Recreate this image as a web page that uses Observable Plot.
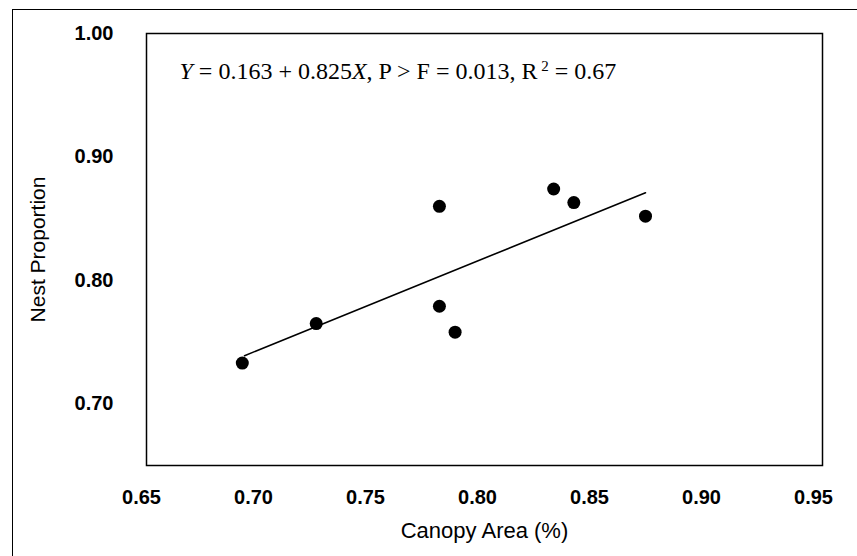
<!DOCTYPE html>
<html>
<head>
<meta charset="utf-8">
<script src="https://cdn.jsdelivr.net/npm/d3@7"></script>
<script src="https://cdn.jsdelivr.net/npm/@observablehq/plot@0.6"></script>
<style>
  html, body { margin: 0; padding: 0; background: #fff; }
  #wrap { position: relative; width: 857px; height: 556px; overflow: hidden; }
  #border { position: absolute; left: 12px; top: 9px; width: 900px; height: 600px;
            border-left: 1.5px solid #000; border-top: 1.5px solid #000; box-sizing: border-box; }
  #chart { position: absolute; left: 0; top: 0; }
</style>
</head>
<body>
<div id="wrap"><div id="border"></div><div id="chart"></div></div>
<script>
// Data
const canopyArea = [0.695, 0.728, 0.783, 0.783, 0.790, 0.834, 0.843, 0.875];
const nestProportion = [0.733, 0.765, 0.860, 0.779, 0.758, 0.874, 0.863, 0.852];
// Fitted line endpoints as drawn
const fitX = [0.696, 0.875];
const fitY = [0.739, 0.871];
const xTicks = [0.65, 0.70, 0.75, 0.80, 0.85, 0.90, 0.95];
const yTicks = [0.70, 0.80, 0.90, 1.00];
const xLabel = "Canopy Area (%)";
const yLabel = "Nest Proportion";
const equation = [
  {t: "Y", style: "italic"},
  {t: " = 0.163 + 0.825", style: "normal"},
  {t: "X", style: "italic"},
  {t: ", P > F = 0.013, R", style: "normal"},
  {t: " 2", style: "normal", sup: true},
  {t: " = 0.67", style: "normal"}
];

const points = canopyArea.map((x, i) => ({x, y: nestProportion[i]}));
const fit = fitX.map((x, i) => ({x, y: fitY[i]}));

const chart = Plot.plot({
  width: 857,
  height: 556,
  marginLeft: 146,
  marginRight: 35,
  marginTop: 33,
  marginBottom: 91,
  style: {fontFamily: "'Liberation Sans', Arial, sans-serif", background: "transparent", overflow: "visible"},
  x: {domain: [0.65, 0.95], range: [141, 813]},
  y: {domain: [0.65, 1.00]},
  marks: [
    Plot.frame({stroke: "#000", strokeWidth: 1.5}),
    Plot.axisX({ticks: xTicks, tickFormat: d3.format(".2f"), tickSize: 0, tickPadding: 24,
      fontSize: 20, fontWeight: "bold", fill: "#000",
      label: xLabel, labelAnchor: "center", labelOffset: 72, labelArrow: "none"}),
    Plot.axisY({ticks: yTicks, tickFormat: d3.format(".2f"), tickSize: 0, tickPadding: 33,
      fontSize: 20, fontWeight: "bold", fill: "#000",
      label: yLabel, labelAnchor: "center", labelOffset: 116, labelArrow: "none"}),
    Plot.line(fit, {x: "x", y: "y", stroke: "#000", strokeWidth: 1.6}),
    Plot.dot(points, {x: "x", y: "y", r: 6.5, fill: "#000", stroke: "none"}),
    Plot.text(["eq"], {frameAnchor: "top-left", dx: 33, dy: 28, text: d => d,
      fontFamily: "'Liberation Serif', 'Times New Roman', serif", fontSize: 24,
      fill: "#000", textAnchor: "start", className: "equation"})
  ]
});
document.getElementById("chart").appendChild(chart);

// axis labels: regular weight, no arrows
d3.select(chart).selectAll("g[aria-label='x-axis label'] text")
  .attr("font-weight", "normal").attr("font-size", 22)
  .text(function() { return this.textContent.replace(/\s*[→←↑↓]\s*/g, ""); });
d3.select(chart).selectAll("g[aria-label='y-axis label'] text")
  .attr("font-weight", "normal").attr("font-size", 21)
  .text(function() { return this.textContent.replace(/\s*[→←↑↓]\s*/g, ""); });

// rich equation text
const eqText = d3.select(chart).select("g.equation text");
eqText.text(null);
equation.forEach(p => {
  const ts = eqText.append("tspan").text(p.t).attr("font-style", p.style);
  if (p.sup) ts.attr("baseline-shift", "super").attr("font-size", 15);
});
</script>
</body>
</html>
